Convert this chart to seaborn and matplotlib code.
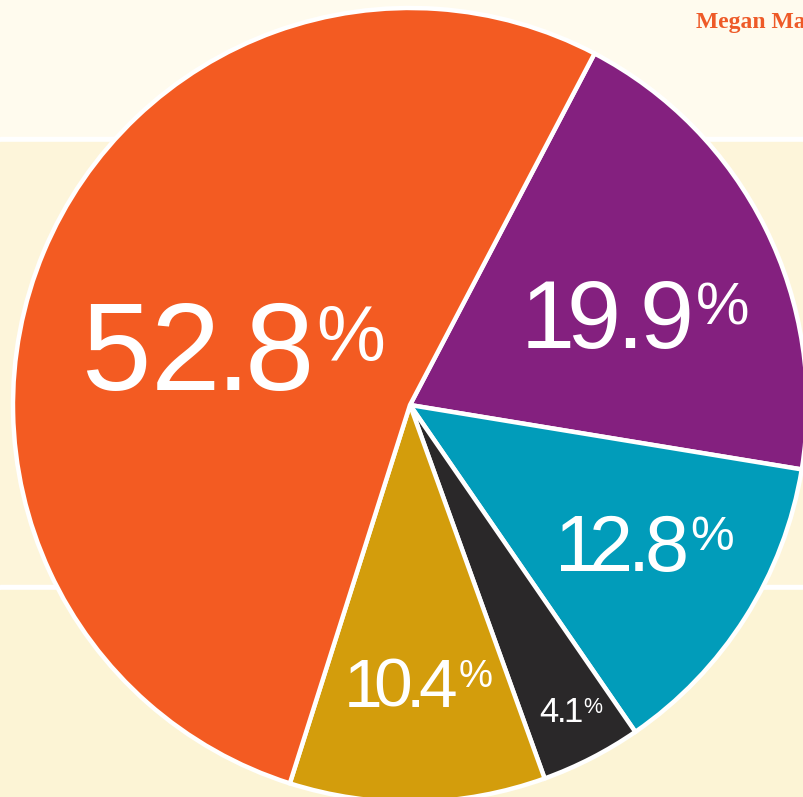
import numpy as np
import matplotlib
matplotlib.use("Agg")
import matplotlib.pyplot as plt
import seaborn as sns

# slices, clockwise from the top (orange/purple split)
shares = [19.9, 12.8, 4.1, 10.4, 52.8]
labels = ["19.9", "12.8", "4.1", "10.4", "52.8"]
colors = ["#84207F", "#019CBA", "#2A2829", "#D39D0C", "#F35B22"]
byline = "Megan Ma"

# layout (pixel units, y up)
W, H = 804, 797
center = (410, H - 405)
radius = 397
start = 62.3
label_pt = [70, 57, 25, 50, 90]
label_pct = [0.62, 0.62, 0.62, 0.55, 0.62]
label_track = [0.0, -0.03, 0.0, -0.05, 0.0]
label_r = [0.612, 0.684, 0.866, 0.696, 0.470]
label_dang = [-4.3, 1.9, 0.7, 0.6, 3.9]

sns.set_theme(style="white")
plt.rcParams["font.family"] = ["Liberation Sans", "DejaVu Sans"]

fig = plt.figure(figsize=(W / 100, H / 100), dpi=100)
ax = fig.add_axes([0, 0, 1, 1])

# background bands with thin white rules
ax.axhspan(H - 137, H, color="#FFFBEE", zorder=0)
ax.axhspan(H - 142, H - 137, color="white", zorder=0)
ax.axhspan(H - 585, H - 142, color="#FDF5DA", zorder=0)
ax.axhspan(H - 590, H - 585, color="white", zorder=0)
ax.axhspan(0, H - 590, color="#FCF4D5", zorder=0)

ax.pie(shares, colors=sns.color_palette(colors), startangle=start,
       counterclock=False, center=center, radius=radius, frame=True,
       wedgeprops=dict(edgecolor="white", linewidth=3.2))
ax.set_xlim(0, W)
ax.set_ylim(0, H)
ax.set_aspect("auto")
ax.axis("off")


def tracking(prev, ch, extra):
    # negative tracking (in em) to mimic the tight Helvetica setting
    gap = extra
    if "." in (prev, ch):
        gap -= 0.04
    if prev == "1":
        gap -= 0.09
    if ch == "1":
        gap -= 0.06
    return gap


def tight_label(x, y, s, pt, pct_scale, extra):
    first = ax.text(x, y, s[0], color="white", fontsize=pt, ha="left",
                    va="bottom", zorder=5)
    prev = first
    for i, ch in enumerate(s[1:], 1):
        prev = ax.annotate(ch, xy=(1, 0), xycoords=prev,
                           xytext=(tracking(s[i - 1], ch, extra) * pt, 0),
                           textcoords="offset points", ha="left", va="bottom",
                           color="white", fontsize=pt, zorder=5)
    pct = ax.annotate("%", xy=(1, 1), xycoords=prev,
                      xytext=(0.02 * pt, -0.03 * pt), textcoords="offset points",
                      ha="left", va="top", color="white",
                      fontsize=pct_scale * pt, zorder=5)
    return first, pct


items = []
cum = 0
for val, lab, pt, ps, tr, rf, da in zip(shares, labels, label_pt, label_pct,
                                        label_track, label_r, label_dang):
    mid = start - (cum + val / 2) / 100 * 360 + da
    cum += val
    cx = center[0] + rf * radius * np.cos(np.radians(mid))
    cy = center[1] + rf * radius * np.sin(np.radians(mid))
    first, pct = tight_label(cx, cy, lab, pt, ps, tr)
    items.append((first, pct, cx, cy, pt))

ax.text(696, H - 28, byline, color="#EE5A28", fontsize=17, fontweight="bold",
        family=["Liberation Serif", "DejaVu Serif"], ha="left", va="baseline")

# centre each label on its anchor point
fig.canvas.draw()
r = fig.canvas.get_renderer()
for first, pct, cx, cy, pt in items:
    b0 = first.get_window_extent(r)
    b1 = pct.get_window_extent(r)
    width = b1.x1 - b0.x0
    px = pt / 0.72
    first.set_position((cx - width / 2, cy - 0.358 * px - 0.21 * px))

fig.savefig("out.png", dpi=100)
plt.close(fig)
